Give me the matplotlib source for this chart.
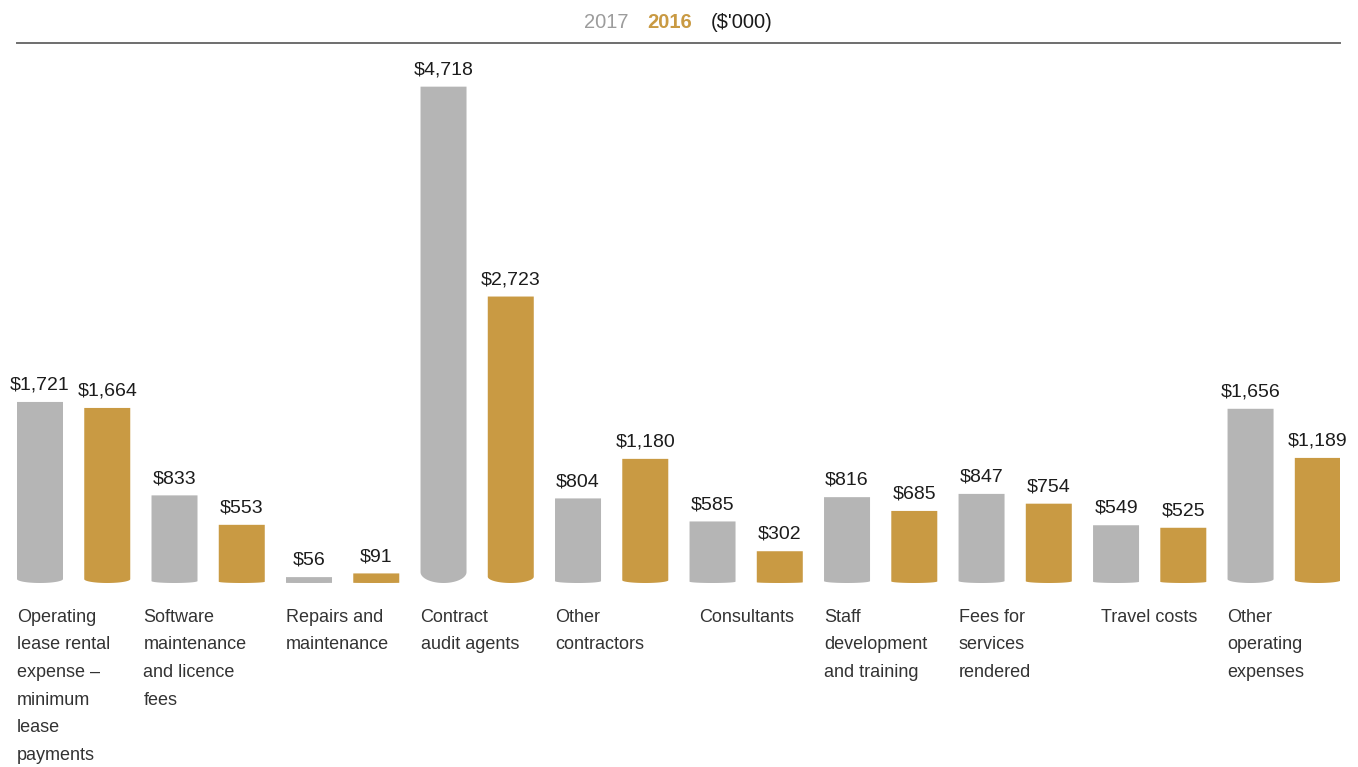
import numpy as np
import matplotlib.pyplot as plt
from matplotlib.patches import Polygon

plt.rcParams['font.family'] = ['Liberation Sans', 'DejaVu Sans']

# Operating expenses by category, $'000
categories = [
    "Operating\nlease rental\nexpense \u2013\nminimum\nlease\npayments",
    "Software\nmaintenance\nand licence\nfees",
    "Repairs and\nmaintenance",
    "Contract\naudit agents",
    "Other\ncontractors",
    "Consultants",
    "Staff\ndevelopment\nand training",
    "Fees for\nservices\nrendered",
    "Travel costs",
    "Other\noperating\nexpenses",
]
values_2017 = [1721, 833, 56, 4718, 804, 585, 816, 847, 549, 1656]
values_2016 = [1664, 553, 91, 2723, 1180, 302, 685, 754, 525, 1189]

GREY = '#b5b5b5'
GOLD = '#c99a43'
W, H = 1358, 767

fig = plt.figure(figsize=(W / 100, H / 100), dpi=100)
# axes spans from the rule under the legend down to the bar baseline
ax = fig.add_axes([17 / W, (H - 583) / H, (1340 - 17) / W, (583 - 43) / H])
ax.set_xlim(-0.171, 9.665)
ax.set_ylim(0, 5133)
for side in ['left', 'right', 'bottom']:
    ax.spines[side].set_visible(False)
ax.spines['top'].set_color('#6e6e6e')
ax.spines['top'].set_linewidth(1.4)
ax.set_xticks([])
ax.set_yticks([])

bar_w = 0.342


def rounded_bar(x, h, color):
    # bar with a shallow elliptical bottom, like the base of a cylinder
    d = min(h * 0.022, h)
    t = np.linspace(np.pi, 2 * np.pi, 40)
    xs = x + bar_w / 2 * np.cos(t)
    ys = d + d * np.sin(t)
    pts = np.column_stack([xs, ys])
    pts = np.vstack([[x - bar_w / 2, h], pts, [x + bar_w / 2, h]])
    ax.add_patch(Polygon(pts, closed=True, facecolor=color, edgecolor='none'))
    ax.annotate(f"${h:,}", (x, h), xytext=(0, 6), textcoords='offset points',
                ha='center', va='bottom', fontsize=14, color='#1c1c1c')


for i, (v17, v16) in enumerate(zip(values_2017, values_2016)):
    rounded_bar(i, v17, GREY)
    rounded_bar(i + 0.5, v16, GOLD)

# category labels under each pair
for i, label in enumerate(categories):
    if '\n' in label:
        x, ha = i - bar_w / 2, 'left'
        if i == 1:
            x -= 0.06
    else:
        x, ha = i + 0.25, 'center'
    ax.annotate(label, (x, 0), xytext=(0, -18.5), textcoords='offset points',
                ha=ha, va='top', fontsize=13, color='#333333', linespacing=1.82,
                annotation_clip=False)

# legend line above the rule
fig.text(584 / W, 1 - 22 / H, "2017", fontsize=14.5, color='#9c9c9c', va='center')
fig.text(647 / W, 1 - 22 / H, "2016", fontsize=14.5, color=GOLD, va='center',
         fontweight='bold')
fig.text(711 / W, 1 - 22 / H, "($'000)", fontsize=14.5, color='#1a1a1a', va='center')

fig.savefig('out.png', dpi=100, facecolor='white')
